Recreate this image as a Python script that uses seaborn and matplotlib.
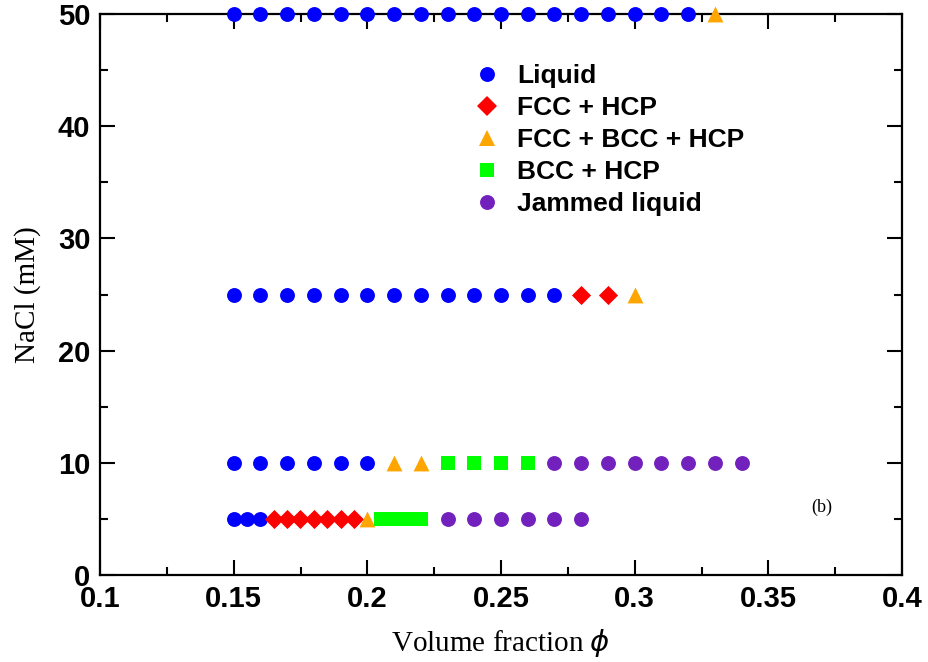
import matplotlib
matplotlib.use("Agg")
import matplotlib.pyplot as plt
from matplotlib.ticker import MultipleLocator
from matplotlib.lines import Line2D
import seaborn as sns
import pandas as pd

# ---- data ----
phases = ["Liquid", "FCC + HCP", "FCC + BCC + HCP", "BCC + HCP", "Jammed liquid"]

# NaCl = 5 mM
phi_5 = [0.15, 0.155, 0.16,
         0.165, 0.17, 0.175, 0.18, 0.185, 0.19, 0.195,
         0.20,
         0.205, 0.21, 0.215, 0.22,
         0.23, 0.24, 0.25, 0.26, 0.27, 0.28]
phase_5 = (["Liquid"] * 3 + ["FCC + HCP"] * 7 + ["FCC + BCC + HCP"] * 1
           + ["BCC + HCP"] * 4 + ["Jammed liquid"] * 6)

# NaCl = 10 mM
phi_10 = [0.15, 0.16, 0.17, 0.18, 0.19, 0.20,
          0.21, 0.22,
          0.23, 0.24, 0.25, 0.26,
          0.27, 0.28, 0.29, 0.30, 0.31, 0.32, 0.33, 0.34]
phase_10 = (["Liquid"] * 6 + ["FCC + BCC + HCP"] * 2 + ["BCC + HCP"] * 4
            + ["Jammed liquid"] * 8)

# NaCl = 25 mM
phi_25 = [0.15, 0.16, 0.17, 0.18, 0.19, 0.20, 0.21, 0.22, 0.23, 0.24, 0.25, 0.26, 0.27,
          0.28, 0.29,
          0.30]
phase_25 = ["Liquid"] * 13 + ["FCC + HCP"] * 2 + ["FCC + BCC + HCP"]

# NaCl = 50 mM
phi_50 = [0.15, 0.16, 0.17, 0.18, 0.19, 0.20, 0.21, 0.22, 0.23, 0.24, 0.25, 0.26,
          0.27, 0.28, 0.29, 0.30, 0.31, 0.32,
          0.33]
phase_50 = ["Liquid"] * 18 + ["FCC + BCC + HCP"]

nacl_levels = [5, 10, 25, 50]

x_ticks = [0.1, 0.15, 0.2, 0.25, 0.3, 0.35, 0.4]
x_tick_labels = ["0.1", "0.15", "0.2", "0.25", "0.3", "0.35", "0.4"]
y_ticks = [0, 10, 20, 30, 40, 50]
y_tick_labels = ["0", "10", "20", "30", "40", "50"]

# ---- table ----
rows = []
for nacl, phis, phs in zip(nacl_levels, [phi_5, phi_10, phi_25, phi_50],
                           [phase_5, phase_10, phase_25, phase_50]):
    for p, ph in zip(phis, phs):
        rows.append({"phi": p, "NaCl": nacl, "phase": ph})
df = pd.DataFrame(rows)

colors = {"Liquid": "#0000FF", "FCC + HCP": "#FF0000", "FCC + BCC + HCP": "#FFA500",
          "BCC + HCP": "#00FF00", "Jammed liquid": "#7221BC"}
markers = {"Liquid": "o", "FCC + HCP": "D", "FCC + BCC + HCP": "^",
           "BCC + HCP": "s", "Jammed liquid": "o"}
sizes = {"Liquid": 115, "FCC + HCP": 95, "FCC + BCC + HCP": 130,
         "BCC + HCP": 115, "Jammed liquid": 115}

sns.set_theme(style="white")
plt.rcParams["font.family"] = ["Liberation Sans", "DejaVu Sans"]
plt.rcParams["text.color"] = "black"
plt.rcParams["axes.labelcolor"] = "black"
plt.rcParams["xtick.color"] = "black"
plt.rcParams["ytick.color"] = "black"

fig = plt.figure(figsize=(9.29, 6.62), dpi=100)
ax = fig.add_axes([100 / 929, 1 - 575 / 662, 802 / 929, 561 / 662])

for ph in phases:
    sub = df[df["phase"] == ph]
    sns.scatterplot(data=sub, x="phi", y="NaCl", color=colors[ph], marker=markers[ph],
                    s=sizes[ph], linewidth=0, ax=ax, legend=False, clip_on=False, zorder=3)

ax.set_xlim(0.1, 0.4)
ax.set_ylim(0, 50)
ax.set_xticks(x_ticks)
ax.set_xticklabels(x_tick_labels)
ax.set_yticks(y_ticks)
ax.set_yticklabels(y_tick_labels)
ax.xaxis.set_minor_locator(MultipleLocator(0.025))
ax.yaxis.set_minor_locator(MultipleLocator(5))

ax.tick_params(which="both", direction="in", top=True, right=True, bottom=True, left=True,
               width=1.5, color="black", labelcolor="black")
ax.tick_params(which="major", length=11, labelsize=21, pad=7)
ax.tick_params(which="minor", length=6)
for lab in ax.get_xticklabels() + ax.get_yticklabels():
    lab.set_fontweight("bold")
for sp in ax.spines.values():
    sp.set_linewidth(1.6)
    sp.set_color("black")
    sp.set_visible(True)

ax.set_xlabel(r"Volume fraction $\phi$", fontfamily="Liberation Serif", fontsize=21,
              labelpad=10, color="black")
ax.set_ylabel("NaCl (mM)", fontfamily="Liberation Serif", fontsize=21, labelpad=12,
              color="black")

ax.text(0.370, 6.0, "(b)", fontfamily="Liberation Serif", fontsize=13, ha="center",
        va="center", color="black")

handles = [Line2D([], [], linestyle="none", marker=markers[ph], color=colors[ph],
                  markersize=(sizes[ph] ** 0.5), markeredgewidth=0) for ph in phases]
leg = ax.legend(handles, phases, loc="upper left", bbox_to_anchor=(458 / 929, 1 - 51 / 662),
                bbox_transform=fig.transFigure, frameon=False,
                prop={"weight": "bold", "size": 19}, labelspacing=0.3, handletextpad=0.55,
                handlelength=1.2, borderpad=0)
for t in leg.get_texts():
    t.set_color("black")

fig.savefig("out.png", dpi=100)
